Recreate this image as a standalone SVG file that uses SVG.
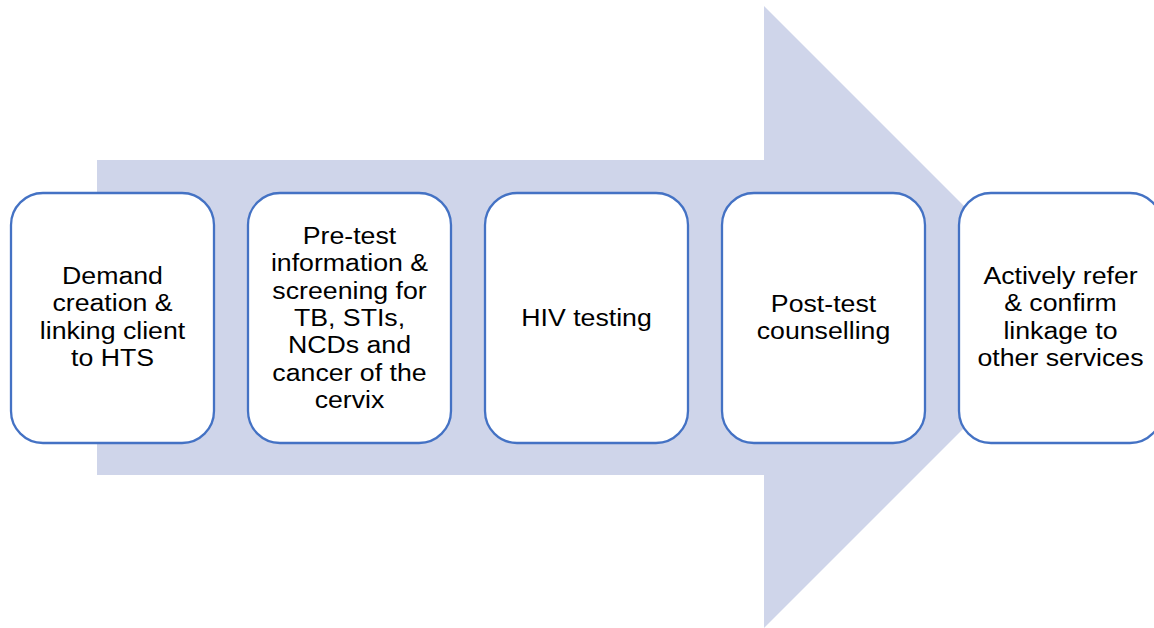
<svg xmlns="http://www.w3.org/2000/svg" width="1154" height="628" viewBox="0 0 1154 628">
<style>
.box{fill:#ffffff;stroke:#4472C4;stroke-width:2.3}
.t{font-family:"Liberation Sans",Arial,sans-serif;font-size:24.5px;fill:#000;text-anchor:middle}
</style>
<rect width="1154" height="628" fill="#ffffff"/>
<g id="connectors">
<polygon points="97,160 764,160 764,6 1075,317 764,628 764,475 97,475" fill="#CFD5EA"/>
</g>
<g id="n1">
<rect class="box" x="11" y="193" width="203" height="250" rx="32"/>
<text class="t" transform="translate(112.5,0) scale(1.09,1)"><tspan x="0" y="284">Demand</tspan><tspan x="0" y="311.3">creation &amp;</tspan><tspan x="0" y="338.6">linking client</tspan><tspan x="0" y="366">to HTS</tspan></text>
</g>
<g id="n2">
<rect class="box" x="248" y="193" width="203" height="250" rx="32"/>
<text class="t" transform="translate(349.5,0) scale(1.09,1)"><tspan x="0" y="244">Pre-test</tspan><tspan x="0" y="271.3">information &amp;</tspan><tspan x="0" y="298.6">screening for</tspan><tspan x="0" y="326">TB, STIs,</tspan><tspan x="0" y="353.3">NCDs and</tspan><tspan x="0" y="380.6">cancer of the</tspan><tspan x="0" y="408">cervix</tspan></text>
</g>
<g id="n3">
<rect class="box" x="485" y="193" width="203" height="250" rx="32"/>
<text class="t" transform="translate(586.5,0) scale(1.09,1)"><tspan x="0" y="326">HIV testing</tspan></text>
</g>
<g id="n4">
<rect class="box" x="722" y="193" width="203" height="250" rx="32"/>
<text class="t" transform="translate(823.5,0) scale(1.09,1)"><tspan x="0" y="312">Post-test</tspan><tspan x="0" y="339.3">counselling</tspan></text>
</g>
<g id="n5">
<rect class="box" x="959" y="193" width="203" height="250" rx="32"/>
<text class="t" transform="translate(1060.5,0) scale(1.09,1)"><tspan x="0" y="284">Actively refer</tspan><tspan x="0" y="311.3">&amp; confirm</tspan><tspan x="0" y="338.6">linkage to</tspan><tspan x="0" y="366">other services</tspan></text>
</g>
</svg>
